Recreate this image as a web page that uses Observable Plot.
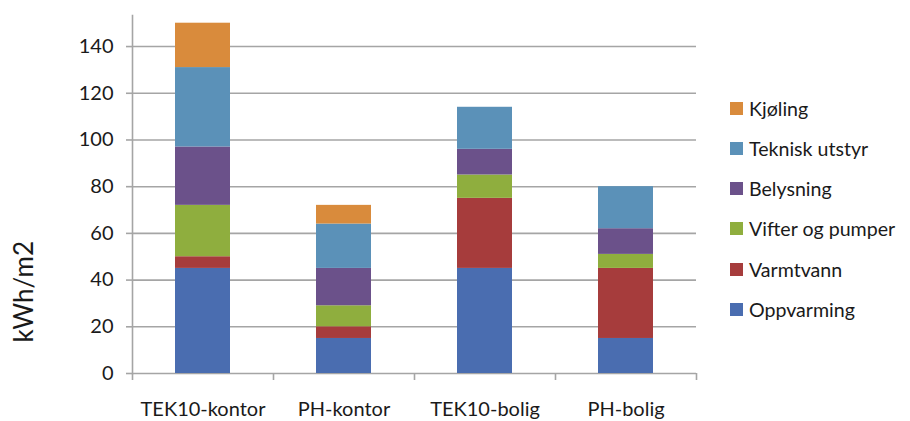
<!DOCTYPE html>
<html>
<head>
<meta charset="utf-8">
<script src="https://cdn.jsdelivr.net/npm/d3@7"></script>
<script src="https://cdn.jsdelivr.net/npm/@observablehq/plot@0.6"></script>
<style>
  html, body { margin: 0; padding: 0; background: #ffffff; }
  #wrap { position: relative; width: 910px; height: 421px; font-family: Lato, "Open Sans", sans-serif; color: #1a1a1a; }
  #legend { position: absolute; left: 730px; top: 96px; display: flex; flex-direction: column; gap: 16.3px; }
  .item { display: flex; align-items: center; height: 24px; font-size: 19.6px; white-space: nowrap; }
  .sw { width: 13px; height: 13px; margin-right: 6px; flex: none; }
</style>
</head>
<body>
<div id="wrap"></div>
<script>
const categories = ["TEK10-kontor", "PH-kontor", "TEK10-bolig", "PH-bolig"];
const series = ["Oppvarming", "Varmtvann", "Vifter og pumper", "Belysning", "Teknisk utstyr", "Kjøling"];
const oppvarming = [45, 15, 45, 15];
const varmtvann = [5, 5, 30, 30];
const vifterOgPumper = [22, 9, 10, 6];
const belysning = [25, 16, 11, 11];
const tekniskUtstyr = [34, 19, 18, 18];
const kjoling = [19, 8, 0, 0];
const yTicks = [0, 20, 40, 60, 80, 100, 120, 140];
const colors = ["#4a6db0", "#a63c3c", "#8fae3e", "#6b518a", "#5b91b8", "#d98b3c"];

const seriesValues = [oppvarming, varmtvann, vifterOgPumper, belysning, tekniskUtstyr, kjoling];
const rows = [];
series.forEach((s, si) => {
  categories.forEach((c, ci) => {
    rows.push({category: c, series: s, value: seriesValues[si][ci]});
  });
});

const W = 910, H = 421, ML = 132, MR = 214, MT = 15, MB = 48;
const bw = (W - ML - MR) / categories.length;
const gray = "#a5a5a5";

const chart = Plot.plot({
  width: W,
  height: H,
  marginLeft: ML,
  marginRight: MR,
  marginTop: MT,
  marginBottom: MB,
  style: {fontFamily: "Lato, 'Open Sans', sans-serif", background: "transparent", color: "#1a1a1a"},
  x: {domain: categories, padding: 0, axis: null},
  y: {domain: [0, 153.3], axis: null},
  color: {domain: series, range: colors},
  marks: [
    Plot.gridY(yTicks, {stroke: gray, strokeOpacity: 1, strokeWidth: 1.6}),
    Plot.axisY(yTicks, {tickSize: 6, tickPadding: 13, stroke: gray, strokeWidth: 1.6, fontSize: 20, label: null, fill: "#1a1a1a"}),
    Plot.frame({anchor: "left", stroke: gray, strokeWidth: 1.6}),
    Plot.ruleX(categories, {x: d => d, y1: 0, y2: -3, dx: -bw / 2, stroke: gray, strokeWidth: 1.6}),
    Plot.ruleX(categories.slice(-1), {x: d => d, y1: 0, y2: -3, dx: bw / 2, stroke: gray, strokeWidth: 1.6}),
    Plot.barY(rows, Plot.stackY({x: "category", y: "value", fill: "series", order: series, insetLeft: 43, insetRight: 43})),
    Plot.axisX({tickSize: 0, tickPadding: 28, fontSize: 20, label: null, fill: "#1a1a1a"}),
    Plot.text(["kWh/m2"], {text: d => d, y: 35, frameAnchor: "left", textAnchor: "middle", dx: -108, rotate: -90, fontSize: 26, fill: "#1a1a1a"})
  ]
});

const wrap = document.getElementById("wrap");
wrap.appendChild(chart);

const legend = document.createElement("div");
legend.id = "legend";
series.slice().reverse().forEach(s => {
  const item = document.createElement("div");
  item.className = "item";
  const sw = document.createElement("span");
  sw.className = "sw";
  sw.style.background = colors[series.indexOf(s)];
  const t = document.createElement("span");
  t.textContent = s;
  item.appendChild(sw);
  item.appendChild(t);
  legend.appendChild(item);
});
wrap.appendChild(legend);
</script>
</body>
</html>
